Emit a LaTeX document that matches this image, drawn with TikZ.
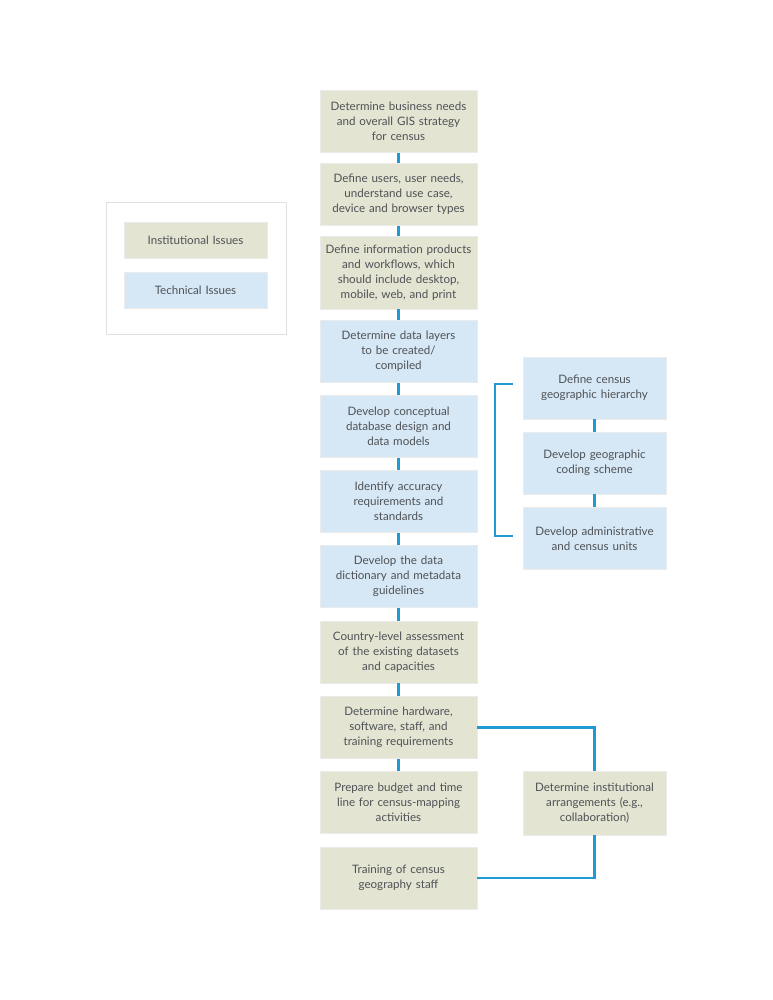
\documentclass[tikz,border=0pt]{standalone}
\usepackage{fontspec}
\setmainfont{Lato}
\definecolor{instgreen}{HTML}{E3E4D2}
\definecolor{techblue}{HTML}{D6E8F6}
\definecolor{linkblue}{HTML}{1E9BD2}
\definecolor{textgray}{HTML}{4F5256}
\tikzset{
  stepbox/.style={minimum width=157pt, minimum height=62pt, text width=154pt,
    align=center, inner sep=0pt, text=textgray, draw=black!8,
    font=\fontsize{11.6}{15}\selectfont},
  inst/.style={stepbox, fill=instgreen},
  tech/.style={stepbox, fill=techblue},
  sidebox/.style={minimum width=143pt, text width=140pt},
  keybox/.style={stepbox, minimum width=143pt, minimum height=36pt, text width=140pt},
  link/.style={draw=linkblue, line width=2.2pt},
}
\begin{document}
\begin{tikzpicture}[x=1pt, y=-1pt]
  \useasboundingbox[fill=white] (0,0) rectangle (772,1000);

  % legend
  \draw[black!12, line width=0.8pt] (106,202) rectangle (286,334);
  \node[keybox, fill=instgreen] (keyinst) at (195.5,240) {Institutional Issues};
  \node[keybox, fill=techblue] (keytech) at (195.5,290) {Technical Issues};

  % main column
  \node[inst] (b1) at (398.5,121.5) {Determine business needs\\and overall GIS strategy\\for census};
  \node[inst] (b2) at (398.5,194.5) {Define users, user needs,\\understand use case,\\device and browser types};
  \node[inst, minimum height=73pt] (b3) at (398.5,272.5) {Define information products\\and workflows, which\\should include desktop,\\mobile, web, and print};
  \node[tech] (b4) at (398.5,351.5) {Determine data layers\\to be created/\\compiled};
  \node[tech] (b5) at (398.5,426.5) {Develop conceptual\\database design and\\data models};
  \node[tech] (b6) at (398.5,501.5) {Identify accuracy\\requirements and\\standards};
  \node[tech] (b7) at (398.5,576.5) {Develop the data\\dictionary and metadata\\guidelines};
  \node[inst] (b8) at (398.5,652) {Country-level assessment\\of the existing datasets\\and capacities};
  \node[inst] (b9) at (398.5,727.5) {Determine hardware,\\software, staff, and\\training requirements};
  \node[inst] (b10) at (398.5,802) {Prepare budget and time\\line for census-mapping\\activities};
  \node[inst] (b11) at (398.5,878) {Training of census\\geography staff};

  % right column
  \node[tech, sidebox] (r1) at (594.5,388) {Define census\\geographic hierarchy};
  \node[tech, sidebox] (r2) at (594.5,463) {Develop geographic\\coding scheme};
  \node[tech, sidebox] (r3) at (594.5,538.5) {Develop administrative\\and census units};
  \node[inst, sidebox, minimum height=64pt] (r4) at (594.5,803) {Determine institutional\\arrangements (e.g.,\\collaboration)};

  % connectors
  \foreach \a/\b in {b1/b2, b2/b3, b3/b4, b4/b5, b5/b6, b6/b7, b7/b8, b8/b9, b9/b10, r1/r2, r2/r3}
    \draw[link] (\a) -- (\b);

  \coordinate (brtop) at (513,384);
  \coordinate (brbot) at (513,536);
  \draw[link] (brtop) -- (495,384) -- (495,536) -- (brbot);

  \draw[link] (b9.east) -| (r4.north);
  \draw[link] (b11.east) -| (r4.south);
\end{tikzpicture}
\end{document}
